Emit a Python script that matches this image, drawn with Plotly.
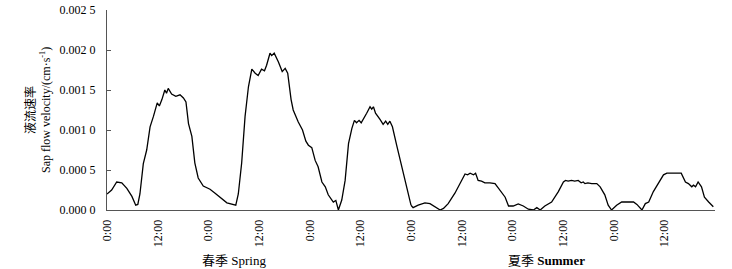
import plotly.graph_objects as go

# Time in hours since the start of the record (6 days)
spring_hours = [0, 1.1, 2.3, 3.5, 4.7, 5.9, 6.8, 7.3, 7.8, 8.6, 9.4, 10.2, 11.0, 11.9, 12.4, 13.0,
                13.7, 14.1, 14.5, 15.3, 16.3, 17.3, 18.1, 18.7, 19.3, 20.1, 20.8, 21.6, 22.8, 24.4,
                25.6, 28.4, 30.5, 31.1, 31.9, 32.7, 33.5, 34.3, 35.1, 35.8, 36.6, 37.3, 37.8, 38.6,
                39.0, 39.6, 40.6, 41.5, 42.2, 42.8, 43.6, 44.1, 45.3, 46.3, 47.1, 47.7, 48.5, 49.3,
                50.0, 50.9, 51.7, 52.4, 53.6, 54.2, 54.8, 55.6, 56.4, 57.2, 58.0, 58.6, 59.1, 59.7,
                60.2, 60.9, 61.5, 62.3, 62.7, 63.1, 63.6, 64.7, 65.4, 66.0, 66.5, 67.0, 67.6, 68.6,
                69.8, 71.0, 72.0]
spring_flow = [0.00020, 0.00025, 0.00035, 0.00034, 0.00027, 0.00017, 0.00006, 0.00007, 0.00020,
               0.00058, 0.00075, 0.00104, 0.00117, 0.00134, 0.00130, 0.00138, 0.00150, 0.00146,
               0.00152, 0.00145, 0.00142, 0.00144, 0.00140, 0.00135, 0.00108, 0.00092, 0.00059,
               0.00040, 0.00030, 0.00026, 0.00021, 0.00009, 0.00006, 0.00020, 0.00059, 0.00117,
               0.00154, 0.00176, 0.00171, 0.00168, 0.00176, 0.00174, 0.00181, 0.00196, 0.00193,
               0.00196, 0.00185, 0.00173, 0.00177, 0.00171, 0.00138, 0.00125, 0.00110, 0.00100,
               0.00086, 0.00081, 0.00078, 0.00062, 0.00054, 0.00035, 0.00029, 0.00019, 0.00010,
               0.00012, 0.00000, 0.000125, 0.00037, 0.00083, 0.00102, 0.00112, 0.00109, 0.00112,
               0.00109, 0.00115, 0.00121, 0.00129, 0.00126, 0.00129, 0.00121, 0.00113, 0.00107,
               0.00111, 0.00107, 0.00111, 0.00104, 0.00081, 0.00054, 0.00025, 0.00006]

summer_hours = [72.0, 72.5, 73.7, 75.3, 76.5, 77.7, 78.9, 79.7, 80.8, 82.4, 83.6, 84.8, 85.4, 86.0,
                86.8, 87.3, 87.9, 88.7, 89.5, 90.7, 91.9, 93.1, 94.3, 95.1, 96.2, 97.4, 98.6, 99.8,
                101.0, 101.8, 102.6, 103.7, 105.3, 106.9, 108.1, 108.6, 109.2, 110.0, 110.8, 111.6,
                112.3, 112.8, 113.2, 113.9, 114.8, 116.0, 116.8, 117.9, 118.7, 119.5, 120.7, 121.9,
                123.1, 124.7, 125.5, 126.7, 127.5, 128.3, 129.4, 130.6, 131.8, 132.6, 133.8, 135.0,
                136.0, 137.0, 137.7, 138.5, 138.9, 139.4, 140.0, 140.8, 141.5, 142.5, 143.6]
summer_flow = [0.00006, 0.00003, 0.00006, 0.00009, 0.00008, 0.00004, 0.00000, 0.00002, 0.00008,
               0.00021, 0.00033, 0.00045, 0.00044, 0.00046, 0.00044, 0.00046, 0.00037, 0.00036,
               0.00034, 0.00034, 0.00033, 0.00025, 0.00016, 0.00005, 0.00005, 0.000075, 0.00005,
               0.00001, 0.00000, 0.00003, 0.00000, 0.00005, 0.00010, 0.00023, 0.00035, 0.00037,
               0.00036, 0.00037, 0.00036, 0.00037, 0.00034, 0.00035, 0.00033, 0.00034, 0.00033,
               0.00033, 0.00029, 0.00019, 0.00006, 0.00000, 0.00006, 0.00010, 0.00010, 0.00010,
               0.00007, 0.00000, 0.00008, 0.00010, 0.00023, 0.00033, 0.00044, 0.00046, 0.00046,
               0.00046, 0.00046, 0.00035, 0.00033, 0.00029, 0.00031, 0.00029, 0.00035, 0.00029,
               0.00016, 0.00010, 0.00004]

x_tick_vals = [0, 12, 24, 36, 48, 60, 72, 84, 96, 108, 120, 132]
x_tick_text = ["0:00", "12:00", "0:00", "12:00", "0:00", "12:00",
               "0:00", "12:00", "0:00", "12:00", "0:00", "12:00"]
y_tick_vals = [0, 0.0005, 0.001, 0.0015, 0.002, 0.0025]
y_tick_text = ["0.000 0", "0.000 5", "0.001 0", "0.001 5", "0.002 0", "0.002 5"]
season_labels = ["春季 Spring", "夏季 <b>Summer</b>"]
season_centers = [30, 104]

SERIF = "'Liberation Serif', 'Noto Sans CJK SC', serif"

fig = go.Figure()
for hx, fy in [(spring_hours, spring_flow), (summer_hours, summer_flow)]:
    fig.add_trace(go.Scatter(x=hx, y=fy, mode="lines",
                             line=dict(color="black", width=1.3), showlegend=False))

fig.update_layout(
    width=732, height=269,
    margin=dict(l=107, r=17, t=10, b=59, autoexpand=False),
    paper_bgcolor="white", plot_bgcolor="white",
    font=dict(family=SERIF, size=12, color="black"),
    xaxis=dict(range=[0, 144], tickmode="array", tickvals=x_tick_vals, ticktext=x_tick_text,
               tickangle=-90, showgrid=False, zeroline=False, showline=True,
               linecolor="#555", linewidth=1, ticks="", ticklabelstandoff=4, automargin=False,
               tickfont=dict(family=SERIF, size=12)),
    yaxis=dict(range=[0, 0.0025], tickmode="array", tickvals=y_tick_vals, ticktext=y_tick_text,
               showgrid=False, zeroline=False, showline=True, linecolor="#555", linewidth=1,
               ticks="inside", ticklen=4, tickcolor="#555", ticklabelstandoff=8, automargin=False,
               tickfont=dict(family=SERIF, size=12)),
)

# Y-axis title (two lines)
fig.add_annotation(xref="paper", yref="paper", x=0, y=0.5, xanchor="center", yanchor="middle",
                   xshift=-77, text="液流速率", textangle=-90, showarrow=False,
                   font=dict(family=SERIF, size=12))
fig.add_annotation(xref="paper", yref="paper", x=0, y=0.5, xanchor="center", yanchor="middle",
                   xshift=-62, text="Sap flow velocity/(cm·s<sup>-1</sup>)", textangle=-90,
                   showarrow=False, font=dict(family=SERIF, size=12))

for lab, cx in zip(season_labels, season_centers):
    fig.add_annotation(xref="x", yref="paper", x=cx, y=0, yanchor="middle", yshift=-50,
                       text=lab, showarrow=False, font=dict(family=SERIF, size=13))

fig.write_html("out.html", config={"displayModeBar": False},
               post_script="document.body.style.margin='0';document.body.style.overflow='hidden';")
